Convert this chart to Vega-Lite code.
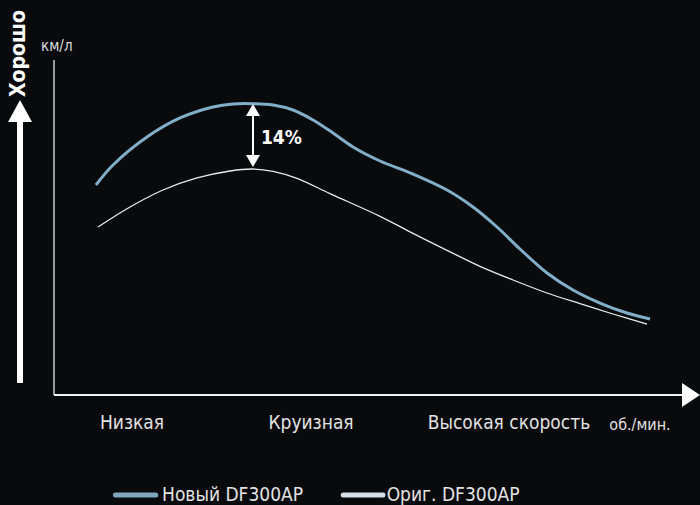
{
  "$schema": "https://vega.github.io/schema/vega-lite/v6.json",
  "width": 700,
  "height": 505,
  "autosize": {"type": "fit", "contains": "padding"},
  "padding": 0,
  "background": "#080a0c",
  "config": {"view": {"stroke": null}, "text": {"font": "DejaVu Sans Condensed"}},
  "datasets": {
    "curves": [
      {"s": "new", "x": 6.56, "y": 62.69}, {"s": "new", "x": 9.22, "y": 68.66}, {"s": "new", "x": 14.53, "y": 77.01},
      {"s": "new", "x": 19.69, "y": 82.69}, {"s": "new", "x": 24.84, "y": 85.97}, {"s": "new", "x": 27.97, "y": 86.87},
      {"s": "new", "x": 31.09, "y": 86.95}, {"s": "new", "x": 34.22, "y": 86.57}, {"s": "new", "x": 37.34, "y": 85.07},
      {"s": "new", "x": 40.47, "y": 82.09}, {"s": "new", "x": 43.59, "y": 78.21}, {"s": "new", "x": 46.72, "y": 74.03},
      {"s": "new", "x": 50.94, "y": 69.85}, {"s": "new", "x": 56.09, "y": 65.97}, {"s": "new", "x": 61.41, "y": 61.19},
      {"s": "new", "x": 65.47, "y": 56.12}, {"s": "new", "x": 69.22, "y": 50.15}, {"s": "new", "x": 72.81, "y": 43.58},
      {"s": "new", "x": 77.03, "y": 36.42}, {"s": "new", "x": 81.09, "y": 31.34}, {"s": "new", "x": 85.31, "y": 27.46},
      {"s": "new", "x": 89.53, "y": 24.48}, {"s": "new", "x": 93.13, "y": 22.69},
      {"s": "orig", "x": 6.88, "y": 50.15}, {"s": "orig", "x": 11.88, "y": 56.12}, {"s": "orig", "x": 17.03, "y": 61.19},
      {"s": "orig", "x": 22.34, "y": 64.78}, {"s": "orig", "x": 27.5, "y": 66.87}, {"s": "orig", "x": 31.09, "y": 67.46},
      {"s": "orig", "x": 34.22, "y": 66.77}, {"s": "orig", "x": 37.97, "y": 64.68}, {"s": "orig", "x": 43.13, "y": 60.1},
      {"s": "orig", "x": 50.94, "y": 53.34}, {"s": "orig", "x": 56.09, "y": 48.26}, {"s": "orig", "x": 61.41, "y": 43.19},
      {"s": "orig", "x": 66.56, "y": 38.41}, {"s": "orig", "x": 71.72, "y": 34.33}, {"s": "orig", "x": 77.03, "y": 30.45},
      {"s": "orig", "x": 82.19, "y": 27.26}, {"s": "orig", "x": 87.34, "y": 24.18}, {"s": "orig", "x": 92.66, "y": 21.19}
    ]
  },
  "encoding": {
    "x": {"field": "x", "type": "quantitative", "scale": {"domain": [-8.4375, 100.9375], "nice": false, "zero": false}, "axis": null},
    "y": {"field": "y", "type": "quantitative", "scale": {"domain": [-32.836, 117.91], "nice": false, "zero": false}, "axis": null}
  },
  "layer": [
    {
      "data": {"values": [{"x": 0, "y": 0, "y2": 100}]},
      "mark": {"type": "rule", "color": "#e8e8e8", "strokeWidth": 1.3},
      "encoding": {"y2": {"field": "y2"}}
    },
    {
      "data": {"values": [{"x": 0, "x2": 98.6, "y": 0}]},
      "mark": {"type": "rule", "color": "#f2f2f2", "strokeWidth": 2},
      "encoding": {"x2": {"field": "x2"}}
    },
    {
      "data": {"values": [{"x": 99.53, "y": 0}]},
      "mark": {"type": "point", "shape": "M-0.75,-1L0.75,0L-0.75,1Z", "size": 576, "filled": true, "color": "#ffffff", "opacity": 1, "strokeWidth": 0}
    },
    {
      "data": {"values": [{"x": -5.31, "y": 3.58, "y2": 83.5}]},
      "mark": {"type": "rule", "color": "#ffffff", "strokeWidth": 6},
      "encoding": {"y2": {"field": "y2"}}
    },
    {
      "data": {"values": [{"x": -5.31, "y": 84.78}]},
      "mark": {"type": "point", "shape": "M-1,0.917L0,-0.917L1,0.917Z", "size": 576, "filled": true, "color": "#ffffff", "opacity": 1, "strokeWidth": 0}
    },
    {
      "data": {"values": [{"x": -5.47, "y": 101.94, "label": "Хорошо"}]},
      "mark": {"type": "text", "angle": 270, "align": "center", "baseline": "middle", "fontSize": 21, "fontWeight": "bold", "color": "#ffffff"},
      "encoding": {"text": {"field": "label"}}
    },
    {
      "data": {"values": [{"x": -2.03, "y": 104.18, "label": "км/л"}]},
      "mark": {"type": "text", "align": "left", "baseline": "middle", "fontSize": 15, "color": "#dcdcdc"},
      "encoding": {"text": {"field": "label"}}
    },
    {
      "data": {"name": "curves"},
      "transform": [{"filter": "datum.s === 'orig'"}],
      "mark": {"type": "line", "interpolate": "catmull-rom", "color": "#e4ecf0", "strokeWidth": 1.3}
    },
    {
      "data": {"name": "curves"},
      "transform": [{"filter": "datum.s === 'new'"}],
      "mark": {"type": "line", "interpolate": "catmull-rom", "color": "#82aec8", "strokeWidth": 3}
    },
    {
      "data": {"values": [{"x": 31.09, "y": 71.2, "y2": 83.4}]},
      "mark": {"type": "rule", "color": "#ffffff", "strokeWidth": 2},
      "encoding": {"y2": {"field": "y2"}}
    },
    {
      "data": {"values": [{"x": 31.09, "y": 85.07}]},
      "mark": {"type": "point", "shape": "M-1,0.857L0,-0.857L1,0.857Z", "size": 196, "filled": true, "color": "#ffffff", "opacity": 1, "strokeWidth": 0}
    },
    {
      "data": {"values": [{"x": 31.09, "y": 69.85}]},
      "mark": {"type": "point", "shape": "M-1,-0.857L0,0.857L1,-0.857Z", "size": 196, "filled": true, "color": "#ffffff", "opacity": 1, "strokeWidth": 0}
    },
    {
      "data": {"values": [{"x": 32.34, "y": 76.72, "label": "14%"}]},
      "mark": {"type": "text", "align": "left", "baseline": "middle", "fontSize": 19, "fontWeight": "bold", "color": "#ffffff"},
      "encoding": {"text": {"field": "label"}}
    },
    {
      "data": {"values": [
        {"x": 12.19, "y": -8.36, "label": "Низкая"},
        {"x": 40.16, "y": -8.36, "label": "Круизная"},
        {"x": 71.09, "y": -8.36, "label": "Высокая скорость"}
      ]},
      "mark": {"type": "text", "align": "center", "baseline": "middle", "fontSize": 19, "color": "#e2e2e2"},
      "encoding": {"text": {"field": "label"}}
    },
    {
      "data": {"values": [{"x": 91.56, "y": -8.96, "label": "об./мин."}]},
      "mark": {"type": "text", "align": "center", "baseline": "middle", "fontSize": 16, "color": "#e2e2e2"},
      "encoding": {"text": {"field": "label"}}
    },
    {
      "data": {"values": [{"x": 9.6, "x2": 15.9, "y": -29.85}]},
      "mark": {"type": "rule", "color": "#7fa6bd", "strokeWidth": 5, "strokeCap": "round"},
      "encoding": {"x2": {"field": "x2"}}
    },
    {
      "data": {"values": [{"x": 45.2, "x2": 51.4, "y": -29.85}]},
      "mark": {"type": "rule", "color": "#d3e0e7", "strokeWidth": 5, "strokeCap": "round"},
      "encoding": {"x2": {"field": "x2"}}
    },
    {
      "data": {"values": [
        {"x": 16.88, "y": -29.85, "label": "Новый DF300AP"},
        {"x": 51.98, "y": -29.85, "label": "Ориг. DF300AP"}
      ]},
      "mark": {"type": "text", "align": "left", "baseline": "middle", "fontSize": 19, "color": "#e2e2e2"},
      "encoding": {"text": {"field": "label"}}
    }
  ]
}
